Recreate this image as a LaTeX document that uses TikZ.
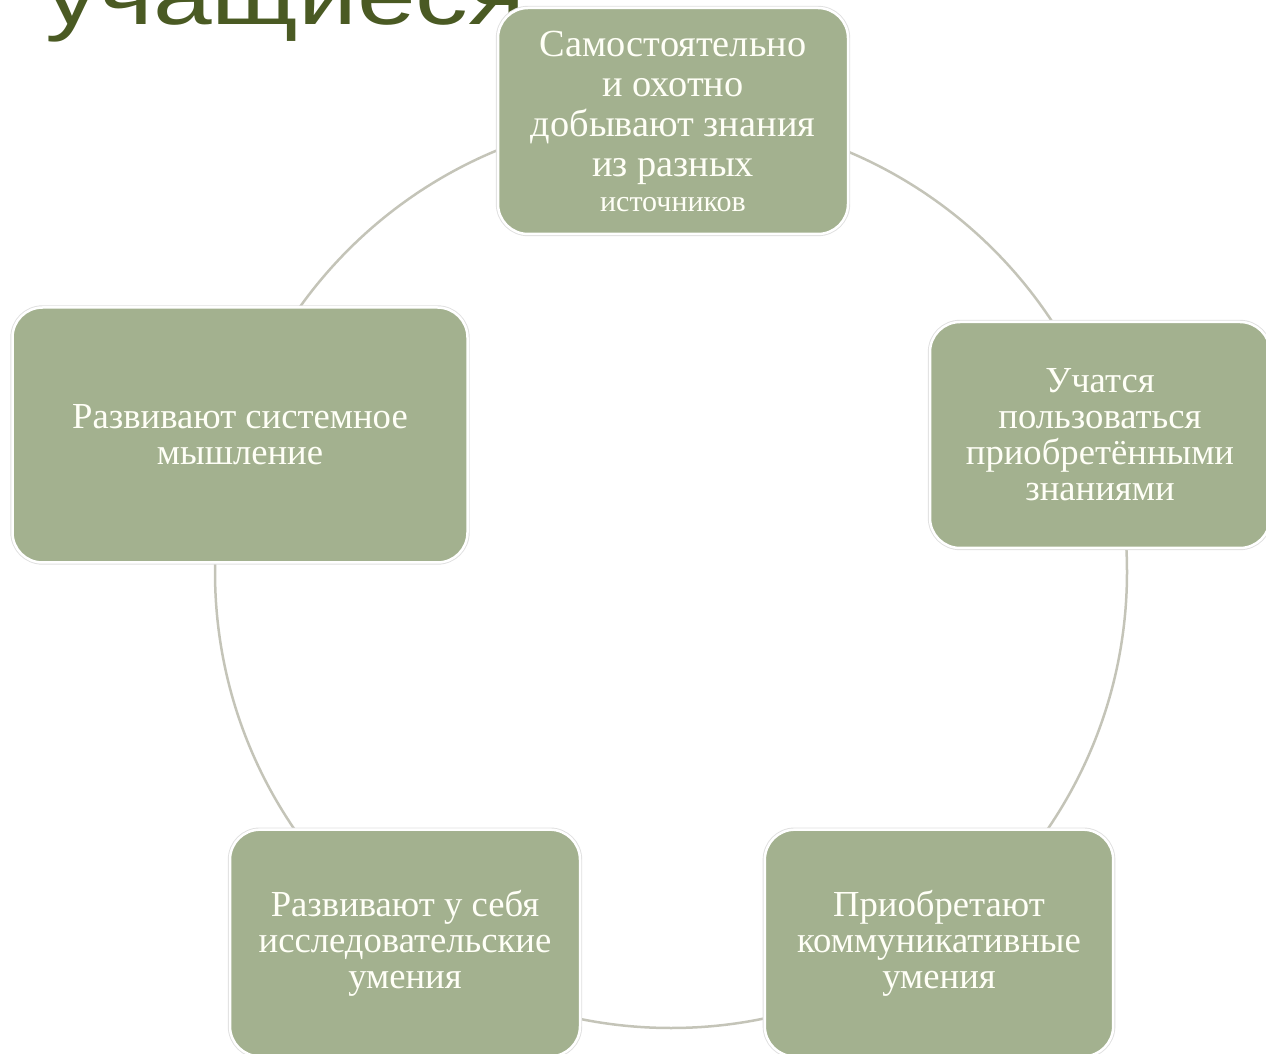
\documentclass[tikz,border=0pt]{standalone}
\usepackage{fontspec}
\setmainfont{Liberation Serif}
\setsansfont{Liberation Sans}
\definecolor{boxfill}{HTML}{A3B18F}
\definecolor{ringgray}{HTML}{C4C4B8}
\definecolor{titleolive}{HTML}{4A5A23}
\tikzset{
  box/.style={rectangle, rounded corners=18pt, fill=boxfill, draw=white, line width=1.5pt,
    preaction={draw=black!12, line width=2.6pt},
    text=white!97!yellow, align=center, inner sep=4pt,
    font=\fontsize{22}{21.6}\selectfont},
  ring/.style={draw=ringgray, line width=1.5pt}
}
\begin{document}
\begin{tikzpicture}[x=0.6pt,y=-0.6pt]
			\useasboundingbox (0,0) rectangle (1266,1054);
			\coordinate (c) at (671,572);
			\draw[ring] (c) circle[radius=456];
			\node[anchor=base west, inner sep=0pt, text=titleolive, xscale=1.24, font=\sffamily\fontsize{51}{51}\selectfont] (title) at (45,25) {учащиеся};
			\node[box, minimum width=210pt, minimum height=135.6pt, font=\fontsize{23}{24}\selectfont] (s_0) at (673,121)
			{Самостоятельно\\ и охотно\\ добывают знания\\ из разных\\[-3pt] {\fontsize{18}{18}\selectfont источников}};
			\node[box, minimum width=204pt, minimum height=135.6pt] (s_1) at (1100,435)
			{Учатся\\ пользоваться\\ приобретёнными\\ знаниями};
			\node[box, minimum width=209pt, minimum height=136pt] (s_2) at (939,943)
			{Приобретают\\ коммуникативные\\ умения};
			\node[box, minimum width=210pt, minimum height=136pt] (s_3) at (405,943)
			{Развивают у себя\\ исследовательские\\ умения};
			\node[box, minimum width=273pt, minimum height=153pt] (s_4) at (240,435)
			{Развивают системное\\ мышление};
		\end{tikzpicture}
\end{document}
